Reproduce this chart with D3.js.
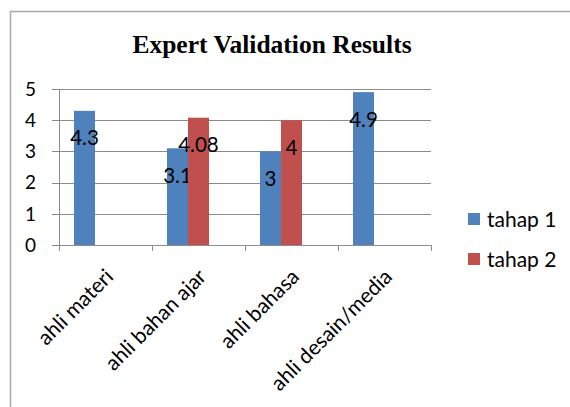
<!DOCTYPE html>
<html>
<head>
<meta charset="utf-8">
<script src="https://cdn.jsdelivr.net/npm/d3@7"></script>
<style>
  html, body { margin: 0; padding: 0; background: #fff; }
  svg { display: block; }
</style>
</head>
<body>
<svg id="chart" width="570" height="407"></svg>
<script>
// Expert validation scores per reviewer group, two rounds
const categories = ["ahli materi", "ahli bahan ajar", "ahli bahasa", "ahli desain/media"];
const seriesNames = ["tahap 1", "tahap 2"];
const tahap1 = [4.3, 3.1, 3, 4.9];
const tahap2 = [null, 4.08, 4, null];
const valueLabels1 = ["4.3", "3.1", "3", "4.9"];
const valueLabels2 = [null, "4.08", "4", null];
const yTicks = [0, 1, 2, 3, 4, 5];
const colors = ["#4f81bd", "#c0504d"];

const svg = d3.select("#chart");
const sans = "Lato, 'Open Sans', sans-serif";

// chart frame
svg.append("rect")
  .attr("x", 10.5).attr("y", 11.5)
  .attr("width", 620).attr("height", 500)
  .attr("fill", "#fff")
  .attr("stroke", "#a9a9a9").attr("stroke-width", 1.5);

svg.append("text")
  .attr("x", 272).attr("y", 53)
  .attr("text-anchor", "middle")
  .attr("font-family", "'Liberation Serif', 'Times New Roman', serif")
  .attr("font-weight", "bold")
  .attr("font-size", 25.5)
  .attr("fill", "#000")
  .text("Expert Validation Results");

const plot = { left: 59, right: 431, top: 89, bottom: 245 };

const x = d3.scaleBand().domain(categories).range([plot.left, plot.right]);
const y = d3.scaleLinear().domain([0, 5]).range([plot.bottom, plot.top]);

const barW = 21;
const barOffset = 15;

// horizontal gridlines with small ticks left of the axis
svg.append("g")
  .selectAll("line")
  .data(yTicks)
  .join("line")
  .attr("x1", plot.left - 7).attr("x2", plot.right)
  .attr("y1", d => Math.round(y(d)) + 0.5).attr("y2", d => Math.round(y(d)) + 0.5)
  .attr("stroke", "#8c8c8c").attr("stroke-width", 1);

// y tick labels
svg.append("g")
  .selectAll("text")
  .data(yTicks)
  .join("text")
  .attr("x", 36).attr("y", d => y(d))
  .attr("dy", "0.36em")
  .attr("text-anchor", "end")
  .attr("font-family", sans)
  .attr("font-size", 19)
  .attr("fill", "#000")
  .text(d => d);

// y axis line
svg.append("line")
  .attr("x1", plot.left + 0.5).attr("x2", plot.left + 0.5)
  .attr("y1", plot.top).attr("y2", plot.bottom)
  .attr("stroke", "#8c8c8c");

// category tick marks
const tickXs = categories.map(c => x(c)).concat([plot.right]);
svg.append("g")
  .selectAll("line")
  .data(tickXs)
  .join("line")
  .attr("x1", d => Math.round(d) + 0.5).attr("x2", d => Math.round(d) + 0.5)
  .attr("y1", plot.bottom).attr("y2", plot.bottom + 6)
  .attr("stroke", "#8c8c8c");

// bars
const seriesData = [tahap1, tahap2];
const labelData = [valueLabels1, valueLabels2];
seriesData.forEach((vals, si) => {
  const rows = categories.map((c, i) => ({ c, v: vals[i], label: labelData[si][i] }))
    .filter(d => d.v != null);
  svg.append("g")
    .selectAll("rect")
    .data(rows)
    .join("rect")
    .attr("x", d => x(d.c) + barOffset + si * barW)
    .attr("y", d => y(d.v))
    .attr("width", barW)
    .attr("height", d => y(0) - y(d.v))
    .attr("fill", colors[si]);
  svg.append("g")
    .selectAll("text")
    .data(rows)
    .join("text")
    .attr("x", d => x(d.c) + barOffset + si * barW + barW / 2)
    .attr("y", d => y(d.v) + 27)
    .attr("dy", "0.36em")
    .attr("text-anchor", "middle")
    .attr("font-family", sans)
    .attr("font-size", 20.5)
    .attr("fill", "#000")
    .text(d => d.label);
});

// rotated category labels
svg.append("g")
  .selectAll("text")
  .data(categories)
  .join("text")
  .attr("transform", d => `translate(${x(d) + x.bandwidth() / 2 + 9},${plot.bottom + 33}) rotate(-45)`)
  .attr("text-anchor", "end")
  .attr("font-family", sans)
  .attr("font-size", 21)
  .attr("fill", "#000")
  .text(d => d);

// legend
const legend = svg.append("g");
seriesNames.forEach((name, i) => {
  legend.append("rect")
    .attr("x", 468).attr("y", 213 + i * 40)
    .attr("width", 12).attr("height", 12)
    .attr("fill", colors[i]);
  legend.append("text")
    .attr("x", 487).attr("y", 219 + i * 40)
    .attr("dy", "0.36em")
    .attr("font-family", sans)
    .attr("font-size", 21)
    .attr("fill", "#000")
    .text(name);
});
</script>
</body>
</html>
